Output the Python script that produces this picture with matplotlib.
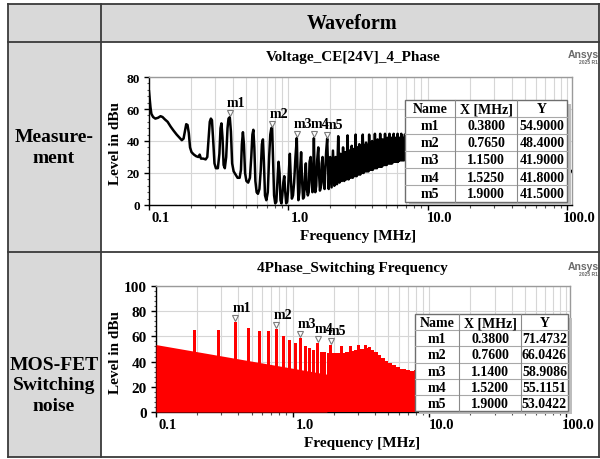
import matplotlib
matplotlib.use('Agg')
import matplotlib.pyplot as plt
from matplotlib.patches import Rectangle
from matplotlib.lines import Line2D
from matplotlib.ticker import FixedLocator, NullFormatter, MultipleLocator, LogLocator
from matplotlib.transforms import offset_copy

plt.rcParams['font.family'] = ['Liberation Serif', 'DejaVu Serif']
plt.rcParams['font.weight'] = 'bold'

# ---------------- data ----------------
header_text = "Waveform"
row_labels = ["Measure-\nment", "MOS-FET\nSwitching\nnoise"]
titles = ["Voltage_CE[24V]_4_Phase", "4Phase_Switching Frequency"]
xlabel = "Frequency [MHz]"
ylabel = "Level in dBu"
xtick_vals = [0.1, 1.0, 10.0, 100.0]
xtick_labels = ["0.1", "1.0", "10.0", "100.0"]

# measured trace (MHz, dBu)
meas_freq = [
    0.100, 0.1012, 0.1025, 0.104, 0.107, 0.111, 0.116, 0.121, 0.125, 0.130, 0.136, 0.143,
    0.150, 0.158, 0.166, 0.172, 0.177, 0.181, 0.185, 0.189, 0.193, 0.197, 0.202, 0.210,
    0.218, 0.226, 0.231, 0.236, 0.245, 0.255, 0.262,
    0.268, 0.273, 0.278, 0.283, 0.289, 0.295, 0.302, 0.312, 0.320, 0.326, 0.331, 0.337,
    0.343, 0.350, 0.358, 0.366, 0.372, 0.380,
    0.387, 0.395, 0.405, 0.418, 0.432, 0.447, 0.457, 0.464, 0.472, 0.480, 0.489, 0.500,
    0.515, 0.530, 0.542, 0.552, 0.561, 0.570, 0.580, 0.592, 0.605, 0.620, 0.634, 0.646,
    0.657, 0.667, 0.680, 0.695, 0.712, 0.728, 0.742, 0.755, 0.765,
    0.775, 0.790, 0.805, 0.820, 0.835, 0.850, 0.865, 0.878, 0.892, 0.905, 0.920, 0.935,
    0.950, 0.965, 0.980, 0.995, 1.010, 1.025, 1.040, 1.060, 1.080, 1.100, 1.125, 1.150,
    1.165, 1.180, 1.200, 1.215, 1.235, 1.255, 1.275, 1.295, 1.315, 1.335, 1.355, 1.380,
    1.400, 1.420, 1.445, 1.470, 1.490, 1.510, 1.525, 1.540, 1.560, 1.585, 1.610, 1.640,
    1.660, 1.685, 1.710, 1.735, 1.760, 1.790, 1.820, 1.845, 1.870, 1.900,
    1.948, 1.995, 2.043, 2.090, 2.138, 2.185, 2.233, 2.280,
    2.328, 2.375, 2.423, 2.470, 2.518, 2.565, 2.613, 2.660,
    2.708, 2.755, 2.803, 2.850, 2.898, 2.945, 2.993, 3.040,
    3.088, 3.135, 3.183, 3.230, 3.278, 3.325, 3.373, 3.420,
    3.468, 3.515, 3.563, 3.610, 3.658, 3.705, 3.753, 3.800,
    3.848, 3.895, 3.943, 3.990, 4.038, 4.085, 4.133, 4.180,
    4.228, 4.275, 4.323, 4.370, 4.418, 4.465, 4.513, 4.560,
    4.608, 4.655, 4.703, 4.750, 4.798, 4.845, 4.893, 4.940,
    4.988, 5.035, 5.083, 5.130, 5.178, 5.225, 5.273, 5.320,
    5.368, 5.415, 5.463, 5.510, 5.558, 5.605, 5.653, 5.700,
    5.748, 5.795, 5.843, 5.890, 5.938, 5.985, 6.033, 6.080,
    6.128, 6.175, 6.223, 6.270, 6.318, 6.365, 6.413, 6.460,
    6.508, 6.555, 6.603, 6.650, 6.698, 6.745, 6.793, 6.840,
    7.2, 8.0, 10.0, 20.0, 40.0, 70.0, 100.0, 108.0,
]
meas_level = [
    71, 66, 61, 57, 55, 54, 54.5, 55.5, 55, 53.5, 52, 49,
    46.5, 44, 42, 40.5, 41.5, 46, 50.5, 50, 45, 36, 33, 31.5,
    30.5, 30, 31.5, 29, 29, 28.5, 30,
    42, 52, 54, 53, 40, 26, 23, 23, 32, 48, 51, 42,
    25, 23, 30, 48, 54, 54.9,
    46, 26, 21, 19, 17, 17, 22, 38, 45.5, 38, 20, 15,
    14, 17, 30, 44, 47, 36, 15, 8, 7, 10, 22, 38,
    41, 28, 6, 3, 8, 30, 44, 48, 48.4,
    32, 6, 1, 2, 15, 27, 20, 3, 1, 6, 14, 18,
    8, 1, 2, 9, 22, 32, 18, 4, 6, 14, 30, 41.9,
    20, 3, 8, 22, 33, 15, 4, 5, 18, 26, 10, 6,
    8, 27, 30, 14, 8, 22, 41.8, 22, 8, 12, 28, 36,
    20, 9, 11, 26, 30, 14, 10, 24, 34, 41.5,
    10, 30, 11, 34, 12, 30, 13, 43,
    14, 32, 15, 36, 15, 33, 16, 43.5,
    16, 34, 17, 37, 17, 35, 18, 44,
    18, 36, 19, 38, 19, 36, 20, 44,
    20, 37, 21, 39, 21, 37, 21, 44,
    22, 38, 22, 40, 22, 38, 23, 44.5,
    23, 39, 23, 41, 24, 39, 24, 44.5,
    24, 40, 24, 41, 25, 40, 25, 44.5,
    25, 40, 25, 42, 26, 40, 26, 44.5,
    26, 41, 26, 42, 26, 41, 27, 44.5,
    27, 41, 27, 42, 27, 41, 27, 44.5,
    27, 41, 28, 42, 28, 41, 28, 44.5,
    28, 41, 28, 42, 28, 41, 28, 44,
    28, 30, 32, 31, 28, 25, 23, 21,
]

meas_names = ["m1", "m2", "m3", "m4", "m5"]
meas_mx = [0.3800, 0.7650, 1.1500, 1.5250, 1.9000]
meas_my = [54.9000, 48.4000, 41.9000, 41.8000, 41.5000]

# simulated switching spectrum
floor_f = [0.1, 1.78]
floor_db = [53.5, 30.0]
spike_f = [0.19, 0.285, 0.38, 0.475, 0.57, 0.665, 0.76, 0.855, 0.95, 1.045, 1.14,
           1.235, 1.33, 1.425, 1.52, 1.615, 1.71, 1.90, 2.28, 2.66, 3.04, 3.42]
spike_db = [65, 65, 71.47, 66.5, 64, 64, 66.04, 60.6, 56.8, 55, 58.91,
            52, 50.5, 49.5, 55.12, 48, 47.5, 53.04, 52.5, 52, 53.4, 53]
upper_f = [1.78, 1.95, 2.2, 2.4, 2.6, 2.8, 3.0, 3.3, 3.55, 3.75, 3.95, 4.2, 4.45,
           4.72, 5.02, 5.35, 5.7, 6.1, 6.7, 7.2, 7.7, 8.5, 10, 15, 20, 30, 50, 70, 100, 108]
upper_db = [47, 46.5, 47, 47.5, 48.5, 49, 50, 51, 51.5, 49.5, 47.5, 45.5, 43,
            40.5, 38.5, 37, 35.5, 34.5, 33.5, 32.5, 33.5, 32, 30, 27, 25, 22, 17, 13, 10, 10]

sim_names = ["m1", "m2", "m3", "m4", "m5"]
sim_mx = [0.3800, 0.7600, 1.1400, 1.5200, 1.9000]
sim_my = [71.4732, 66.0426, 58.9086, 55.1151, 53.0422]

# ---------------- figure ----------------
W, H = 600, 460
fig = plt.figure(figsize=(6, 4.6), dpi=100)


def fx(x):
    return x / W


def fy(y):
    return 1 - y / H


def add_rect(x0, y0, x1, y1, **kw):
    r = Rectangle((fx(x0), fy(y1)), (x1 - x0) / W, (y1 - y0) / H,
                  transform=fig.transFigure, **kw)
    fig.add_artist(r)
    return r


def add_line(xs, ys, **kw):
    l = Line2D([fx(x) for x in xs], [fy(y) for y in ys], transform=fig.transFigure, **kw)
    fig.add_artist(l)


# outer table
GRAY = '#d9d9d9'
add_rect(7.5, 5, 100.5, 458, facecolor=GRAY, edgecolor='none', zorder=-5)
add_rect(100.5, 5, 599, 43, facecolor=GRAY, edgecolor='none', zorder=-5)
lc = '#3a3a3a'
for yy in [5, 43, 253, 458]:
    add_line([7.5, 599], [yy, yy], color=lc, lw=1.3, zorder=-4)
for xx in [7.5, 100.5, 599]:
    add_line([xx, xx], [5, 458], color=lc, lw=1.3, zorder=-4)

fig.text(fx(352), fy(24), header_text, ha='center', va='center', fontsize=14.5, fontweight='bold')
fig.text(fx(54), fy(148), row_labels[0], ha='center', va='center', fontsize=14,
         fontweight='bold', linespacing=1.3)
fig.text(fx(54), fy(386), row_labels[1], ha='center', va='center', fontsize=14,
         fontweight='bold', linespacing=1.3)


def style_axes(ax, ymax, ystep, ytick_fs):
    ax.set_xscale('log')
    ax.set_ylim(0, ymax)
    ax.xaxis.set_major_locator(FixedLocator(xtick_vals))
    ax.xaxis.set_minor_locator(LogLocator(base=10, subs=range(2, 10), numticks=20))
    ax.xaxis.set_major_formatter(NullFormatter())
    ax.xaxis.set_minor_formatter(NullFormatter())
    ax.yaxis.set_major_locator(MultipleLocator(ystep))
    ax.yaxis.set_minor_locator(MultipleLocator(ystep / 5))
    ax.tick_params(axis='both', which='major', direction='out', length=3.5, width=1,
                   color='black')
    ax.tick_params(axis='both', which='minor', direction='out', length=1.8, width=0.8,
                   color='#555555')
    ax.tick_params(axis='y', which='major', labelsize=ytick_fs, pad=3)
    for lab in ax.get_yticklabels():
        lab.set_fontweight('bold')
    ax.grid(True, which='both', axis='x', color='#d6d6d6', lw=0.8)
    ax.grid(True, which='major', axis='y', color='#d6d6d6', lw=0.8)
    ax.set_axisbelow(True)
    for s in ['left', 'bottom']:
        ax.spines[s].set_color('black')
        ax.spines[s].set_linewidth(1.0)
    for s in ['top', 'right']:
        ax.spines[s].set_color('#9a9a9a')
        ax.spines[s].set_linewidth(1.0)
    for v, lab in zip(xtick_vals, xtick_labels):
        ax.annotate(lab, xy=(v, 0), xycoords=('data', 'axes fraction'), xytext=(12, -6),
                    textcoords='offset pixels', ha='center', va='top', fontsize=10.5,
                    fontweight='bold', annotation_clip=False)


def add_markers(ax, names, mx, my):
    tri_tr = offset_copy(ax.transData, fig=fig, x=0, y=4, units='dots')
    ax.plot(mx, my, linestyle='none', marker='v', ms=4.5, mfc='white', mec='#7a7a7a',
            mew=0.8, transform=tri_tr, zorder=6, clip_on=False)
    for n, x, y in zip(names, mx, my):
        ax.annotate(n, xy=(x, y), xytext=(-3, 8), textcoords='offset pixels',
                    ha='left', va='bottom', fontsize=10, fontweight='bold', zorder=7)


def draw_marker_table(cols, y0, rh, names, mx, my):
    nrows = len(names) + 1
    y1 = y0 + rh * nrows
    add_rect(cols[0] + 4, y0 + 4, cols[-1] + 4, y1 + 3, facecolor='#bdbdbd',
             edgecolor='none', zorder=8)
    add_rect(cols[0], y0, cols[-1], y1, facecolor='white', edgecolor='#6e6e6e',
             lw=1.0, zorder=9)
    for i in range(1, nrows):
        add_line([cols[0], cols[-1]], [y0 + i * rh] * 2, color='#a8a8a8', lw=0.8, zorder=10)
    for c in cols[1:-1]:
        add_line([c, c], [y0, y1], color='#8a8a8a', lw=0.8, zorder=10)
    rows = [["Name", "X [MHz]", "Y"]] + [[n, "%.4f" % a, "%.4f" % b]
                                          for n, a, b in zip(names, mx, my)]
    for r, row in enumerate(rows):
        for c, txt in enumerate(row):
            xc = (cols[c] + cols[c + 1]) / 2
            yc = y0 + (r + 0.5) * rh
            fig.text(fx(xc), fy(yc + 0.5), txt, ha='center', va='center', fontsize=10,
                     fontweight='bold', zorder=11)


def ansys_logo(y):
    fig.text(fx(599), fy(y), "Ansys", ha='right', va='center', fontsize=7.5,
             color='#6a6a6a', family=['Liberation Sans', 'DejaVu Sans'], fontweight='bold')
    fig.text(fx(598), fy(y + 8), "2025 R1", ha='right', va='center', fontsize=3.6,
             color='#6a6a6a', family=['Liberation Sans', 'DejaVu Sans'])


# ---------- top chart ----------
ax1 = fig.add_axes([fx(149), fy(206), 422.7 / W, 128 / H])
ax1.plot(meas_freq, meas_level, color='black', lw=1.8, solid_joinstyle='round', zorder=3)
ax1.set_xlim(0.1, 108)
style_axes(ax1, 80, 20, 9.5)
add_markers(ax1, meas_names, meas_mx, meas_my)
fig.text(fx(353), fy(57), titles[0], ha='center', va='center', fontsize=11, fontweight='bold')
fig.text(fx(115), fy(144), ylabel, rotation=90, ha='center', va='center', fontsize=11,
         fontweight='bold')
fig.text(fx(358), fy(237), xlabel, ha='center', va='center', fontsize=11, fontweight='bold')
draw_marker_table([405, 455, 517, 567], 101, 17, meas_names, meas_mx, meas_my)
ansys_logo(55)

# ---------- bottom chart ----------
ax2 = fig.add_axes([fx(156), fy(413), 414 / W, 126 / H])
RED = '#ff0000'
ax2.fill_between(floor_f, floor_db, 0, color=RED, lw=0, zorder=3)
ax2.fill_between(upper_f, upper_db, 0, step='post', color=RED, lw=0, zorder=3)
ax2.bar(spike_f, spike_db, width=[0.05 * f for f in spike_f], color=RED, lw=0, zorder=3)
ax2.set_xlim(0.1, 107)
style_axes(ax2, 100, 20, 11)
add_markers(ax2, sim_names, sim_mx, sim_my)
fig.text(fx(352), fy(269), titles[1], ha='center', va='center', fontsize=11, fontweight='bold')
fig.text(fx(115), fy(353), ylabel, rotation=90, ha='center', va='center', fontsize=11,
         fontweight='bold')
fig.text(fx(362), fy(444), xlabel, ha='center', va='center', fontsize=11, fontweight='bold')
draw_marker_table([415, 459, 521, 568], 315, 16.2, sim_names, sim_mx, sim_my)
ansys_logo(267)

fig.savefig('out.png', dpi=100)
